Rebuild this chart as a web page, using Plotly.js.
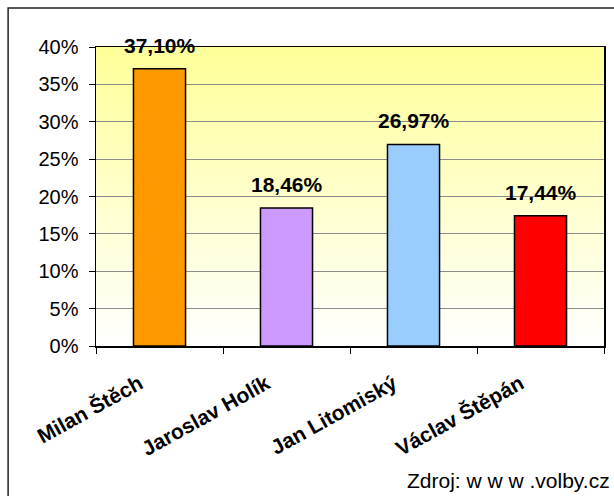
<!DOCTYPE html>
<html>
<head>
<meta charset="utf-8">
<script src="https://cdn.plot.ly/plotly-3.0.1.min.js"></script>
<style>
html,body{margin:0;padding:0;background:#fff;}
#chart{width:614px;height:496px;}
</style>
</head>
<body>
<div id="chart"></div>
<script>
const candidates = ["Milan Štěch", "Jaroslav Holík", "Jan Litomiský", "Václav Štěpán"];
const shares = [37.10, 18.46, 26.97, 17.44];
const barColors = ["#FF9900", "#CC99FF", "#99CCFF", "#FF0000"];
const yTicks = [0, 5, 10, 15, 20, 25, 30, 35, 40];
const sourceText = "Zdroj: w w w .volby.cz";

const fmt = v => v.toFixed(2).replace('.', ',') + '%';

const gradSvg = '<svg xmlns="http://www.w3.org/2000/svg" width="100" height="100" preserveAspectRatio="none">' +
  '<defs><linearGradient id="g" x1="0" y1="0" x2="0" y2="1">' +
  '<stop offset="0" stop-color="#FFFF99"/><stop offset="1" stop-color="#FFFFFF"/>' +
  '</linearGradient></defs><rect width="100" height="100" fill="url(#g)"/></svg>';
const gradUri = 'data:image/svg+xml;base64,' + btoa(gradSvg);

const trace = {
  type: 'bar',
  x: candidates,
  y: shares,
  marker: {color: barColors, line: {color: '#000000', width: 1.5}},
  width: 0.41,
  hoverinfo: 'skip'
};

const annotations = candidates.map((c, i) => ({
  x: c, y: shares[i], xref: 'x', yref: 'y',
  text: '<b>' + fmt(shares[i]) + '</b>',
  showarrow: false, yanchor: 'bottom', yshift: 10,
  font: {family: 'Liberation Sans, Arial, sans-serif', size: 21, color: '#000'}
}));
annotations.push({
  xref: 'paper', yref: 'paper', x: 1.016, y: -0.4515,
  xanchor: 'right', yanchor: 'middle', showarrow: false,
  text: sourceText,
  font: {family: 'Liberation Sans, Arial, sans-serif', size: 21, color: '#000'}
});

const layout = {
  width: 614, height: 496,
  margin: {l: 96, r: 10, t: 47, b: 150},
  paper_bgcolor: '#FFFFFF',
  plot_bgcolor: 'rgba(0,0,0,0)',
  showlegend: false,
  font: {family: 'Liberation Sans, Arial, sans-serif', size: 20, color: '#000'},
  xaxis: {
    type: 'category',
    range: [-0.5, 3.5],
    showline: true, mirror: true, linecolor: '#000', linewidth: 1.5,
    ticks: 'outside', tickson: 'boundaries', ticklen: 6, tickcolor: '#000', tickwidth: 1,
    tickangle: -29,
    ticklabelstandoff: 16,
    ticklabelshift: -20,
    tickfont: {family: 'Liberation Sans, Arial, sans-serif', size: 21, color: '#000', weight: 'bold'},
    showgrid: false, zeroline: false, fixedrange: true
  },
  yaxis: {
    range: [0, 40],
    tickvals: yTicks,
    ticktext: yTicks.map(v => v + '%'),
    showline: true, mirror: true, linecolor: '#000', linewidth: 1.5,
    ticks: 'outside', ticklen: 6, tickcolor: '#000', tickwidth: 1,
    ticklabelstandoff: 6,
    tickfont: {family: 'Liberation Sans, Arial, sans-serif', size: 20, color: '#000'},
    showgrid: true, gridcolor: '#8C8C8C', gridwidth: 1,
    zeroline: false, fixedrange: true
  },
  images: [{
    source: gradUri, xref: 'paper', yref: 'paper',
    x: 0, y: 1, sizex: 1, sizey: 1, xanchor: 'left', yanchor: 'top',
    sizing: 'stretch', layer: 'below'
  }],
  shapes: [{
    type: 'rect', xref: 'paper', yref: 'paper',
    x0: -0.173, x1: 1.5, y0: -1.0, y1: 1.1304,
    line: {color: '#222', width: 1.5}, fillcolor: 'rgba(0,0,0,0)', layer: 'above'
  }],
  annotations: annotations
};

Plotly.newPlot('chart', [trace], layout, {staticPlot: true, displayModeBar: false});
</script>
</body>
</html>
